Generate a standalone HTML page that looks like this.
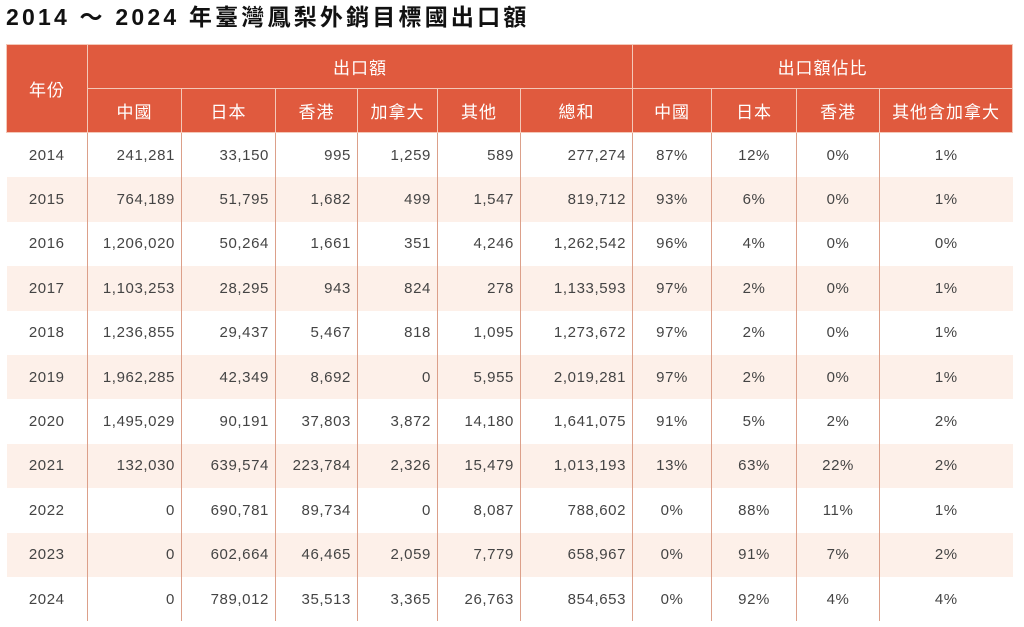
<!DOCTYPE html>
<html><head><meta charset="utf-8"><style>
body{margin:0;width:1024px;height:627px;background:#fff;overflow:hidden;font-family:"Liberation Sans","Noto Sans CJK TC",sans-serif;}
h1{position:absolute;left:6px;top:2px;margin:0;font-size:23px;font-weight:bold;color:#111;letter-spacing:3.2px;line-height:30px;}
table{position:absolute;left:6px;top:44px;border-collapse:collapse;table-layout:fixed;width:1006px;}
th{background:#e05a3e;color:#fff;font-weight:normal;font-size:17px;height:43px;padding:0;border:1.5px solid #f4c8b8;letter-spacing:1px;}
td{height:44.4px;padding:0 6px;font-size:15px;color:#444;border-left:1px solid #dca08a;border-right:1px solid #dca08a;text-align:right;letter-spacing:0.6px;}
td.c{text-align:center;}
tr.s td{background:#fdf0e9;}
td:first-child{border-left:none;}
td:last-child{border-right:none;}
</style></head><body>
<h1>2014 ～ 2024 年臺灣鳳梨外銷目標國出口額</h1>
<table>
<colgroup><col style="width:81px"><col style="width:94px"><col style="width:94px"><col style="width:82px"><col style="width:80px"><col style="width:83px"><col style="width:112px"><col style="width:79px"><col style="width:85px"><col style="width:83px"><col style="width:133px"></colgroup>
<tr><th rowspan="2">年份</th><th colspan="6">出口額</th><th colspan="4">出口額佔比</th></tr>
<tr><th>中國</th><th>日本</th><th>香港</th><th>加拿大</th><th>其他</th><th>總和</th><th>中國</th><th>日本</th><th>香港</th><th>其他含加拿大</th></tr>
<tr><td class="c">2014</td><td>241,281</td><td>33,150</td><td>995</td><td>1,259</td><td>589</td><td>277,274</td><td class="c">87%</td><td class="c">12%</td><td class="c">0%</td><td class="c">1%</td></tr>
<tr class="s"><td class="c">2015</td><td>764,189</td><td>51,795</td><td>1,682</td><td>499</td><td>1,547</td><td>819,712</td><td class="c">93%</td><td class="c">6%</td><td class="c">0%</td><td class="c">1%</td></tr>
<tr><td class="c">2016</td><td>1,206,020</td><td>50,264</td><td>1,661</td><td>351</td><td>4,246</td><td>1,262,542</td><td class="c">96%</td><td class="c">4%</td><td class="c">0%</td><td class="c">0%</td></tr>
<tr class="s"><td class="c">2017</td><td>1,103,253</td><td>28,295</td><td>943</td><td>824</td><td>278</td><td>1,133,593</td><td class="c">97%</td><td class="c">2%</td><td class="c">0%</td><td class="c">1%</td></tr>
<tr><td class="c">2018</td><td>1,236,855</td><td>29,437</td><td>5,467</td><td>818</td><td>1,095</td><td>1,273,672</td><td class="c">97%</td><td class="c">2%</td><td class="c">0%</td><td class="c">1%</td></tr>
<tr class="s"><td class="c">2019</td><td>1,962,285</td><td>42,349</td><td>8,692</td><td>0</td><td>5,955</td><td>2,019,281</td><td class="c">97%</td><td class="c">2%</td><td class="c">0%</td><td class="c">1%</td></tr>
<tr><td class="c">2020</td><td>1,495,029</td><td>90,191</td><td>37,803</td><td>3,872</td><td>14,180</td><td>1,641,075</td><td class="c">91%</td><td class="c">5%</td><td class="c">2%</td><td class="c">2%</td></tr>
<tr class="s"><td class="c">2021</td><td>132,030</td><td>639,574</td><td>223,784</td><td>2,326</td><td>15,479</td><td>1,013,193</td><td class="c">13%</td><td class="c">63%</td><td class="c">22%</td><td class="c">2%</td></tr>
<tr><td class="c">2022</td><td>0</td><td>690,781</td><td>89,734</td><td>0</td><td>8,087</td><td>788,602</td><td class="c">0%</td><td class="c">88%</td><td class="c">11%</td><td class="c">1%</td></tr>
<tr class="s"><td class="c">2023</td><td>0</td><td>602,664</td><td>46,465</td><td>2,059</td><td>7,779</td><td>658,967</td><td class="c">0%</td><td class="c">91%</td><td class="c">7%</td><td class="c">2%</td></tr>
<tr><td class="c">2024</td><td>0</td><td>789,012</td><td>35,513</td><td>3,365</td><td>26,763</td><td>854,653</td><td class="c">0%</td><td class="c">92%</td><td class="c">4%</td><td class="c">4%</td></tr>
</table>
</body></html>
